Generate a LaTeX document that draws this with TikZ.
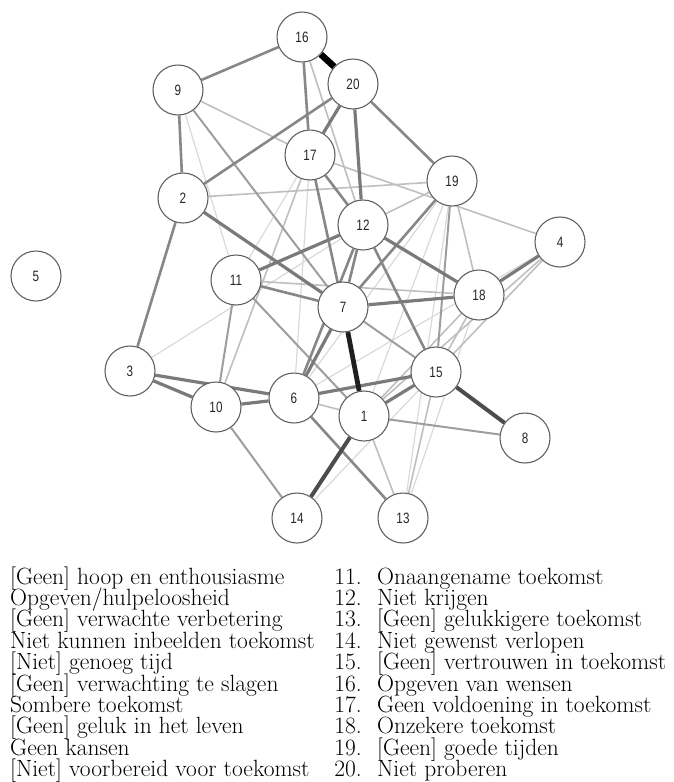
\documentclass[tikz,border=0pt]{standalone}
\usepackage{fontspec}
\newfontfamily\lblfont{Liberation Sans}
\usetikzlibrary{backgrounds}
\newcommand\osn[1]{{\addfontfeatures{Numbers=OldStyle}#1}}
\tikzset{
  vtx/.style={circle, draw=black!62, line width=1.1pt, fill=white, minimum size=50pt, inner sep=0pt,
    font=\lblfont\fontsize{15}{15}\selectfont, text=black!85},
  eA/.style={line width=6.5pt, black},
  eB/.style={line width=4.8pt, black!88},
  eC/.style={line width=4pt, black!70},
  eD/.style={line width=3.2pt, black!52},
  eE/.style={line width=2.6pt, black!47},
  eF/.style={line width=2pt, black!38},
  eG/.style={line width=1.6pt, black!25},
  eH/.style={line width=1.2pt, black!15},
  lgd/.style={anchor=base west, inner sep=0pt, font=\fontsize{23.5}{21}\selectfont},
  lgn/.style={anchor=base east, inner sep=0pt, font=\fontsize{23.5}{21}\selectfont}
}
\newcommand\lbl[1]{\scalebox{0.78}[1]{#1}}
\begin{document}
\begin{tikzpicture}[x=1pt, y=-1pt]
\useasboundingbox (0,0) rectangle (673,782);
% nodes
\node[vtx] (n1)  at (364,416) {\lbl{1}};
\node[vtx] (n2)  at (183,198) {\lbl{2}};
\node[vtx] (n3)  at (130,371) {\lbl{3}};
\node[vtx] (n4)  at (560,242) {\lbl{4}};
\node[vtx] (n5)  at (36,276)  {\lbl{5}};
\node[vtx] (n6)  at (294,398) {\lbl{6}};
\node[vtx] (n7)  at (343,307) {\lbl{7}};
\node[vtx] (n8)  at (525,438) {\lbl{8}};
\node[vtx] (n9)  at (178,90)  {\lbl{9}};
\node[vtx] (n10) at (216,407) {\lbl{10}};
\node[vtx] (n11) at (236,280) {\lbl{11}};
\node[vtx] (n12) at (363,225) {\lbl{12}};
\node[vtx] (n13) at (403,518) {\lbl{13}};
\node[vtx] (n14) at (297,518) {\lbl{14}};
\node[vtx] (n15) at (436,372) {\lbl{15}};
\node[vtx] (n16) at (302,37)  {\lbl{16}};
\node[vtx] (n17) at (310,155) {\lbl{17}};
\node[vtx] (n18) at (479,295) {\lbl{18}};
\node[vtx] (n19) at (452,181) {\lbl{19}};
\node[vtx] (n20) at (353,84)  {\lbl{20}};
\begin{pgfonlayer}{background}
% very light
\foreach \a/\b in {9/11, 3/12, 6/17, 19/13, 4/6, 18/13, 19/1, 14/15, 17/11, 19/6}
  \draw[eH] (n\a) -- (n\b);
% light
\foreach \a/\b in {9/17, 17/4, 2/19, 16/12, 19/12, 19/18, 11/18, 1/13, 15/13, 18/15, 4/15, 4/1, 18/1, 6/1, 17/10}
  \draw[eG] (n\a) -- (n\b);
% medium-light
\foreach \a/\b in {9/7, 7/15, 1/8, 10/11, 10/14, 11/1, 19/15}
  \draw[eF] (n\a) -- (n\b);
% medium
\foreach \a/\b in {16/9, 16/17, 20/2, 20/19, 9/2, 2/3, 17/7, 17/12, 12/7, 11/7, 19/7, 12/15, 6/13, 6/12}
  \draw[eE] (n\a) -- (n\b);
% medium thick
\foreach \a/\b in {20/12, 12/11, 12/18, 7/18, 4/18, 3/10, 3/6, 10/6, 6/7, 15/1, 6/15, 2/7, 20/17}
  \draw[eD] (n\a) -- (n\b);
\draw[eC] (n1) -- (n14);
\draw[eC] (n15) -- (n8);
\draw[eB] (n7) -- (n1);
\draw[eA] (n16) -- (n20);
\end{pgfonlayer}
% legend
\foreach \t [count=\i from 0] in {%
  {[Geen] hoop en enthousiasme},
  {Opgeven/hulpeloosheid},
  {[Geen] verwachte verbetering},
  {Niet kunnen inbeelden toekomst},
  {[Niet] genoeg tijd},
  {[Geen] verwachting te slagen},
  {Sombere toekomst},
  {[Geen] geluk in het leven},
  {Geen kansen},
  {[Niet] voorbereid voor toekomst}}
  \node[lgd] (l\i) at (10, 584+21.4*\i) {\t};
\foreach \t [count=\i from 0, evaluate=\i as \k using int(\i+11)] in {%
  {Onaangename toekomst},
  {Niet krijgen},
  {[Geen] gelukkigere toekomst},
  {Niet gewenst verlopen},
  {[Geen] vertrouwen in toekomst},
  {Opgeven van wensen},
  {Geen voldoening in toekomst},
  {Onzekere toekomst},
  {[Geen] goede tijden},
  {Niet proberen}}
  {\node[lgn] (k\i) at (362, 584+21.4*\i) {\osn{\k.}};
   \node[lgd] (r\i) at (377, 584+21.4*\i) {\t};}
\end{tikzpicture}
\end{document}
